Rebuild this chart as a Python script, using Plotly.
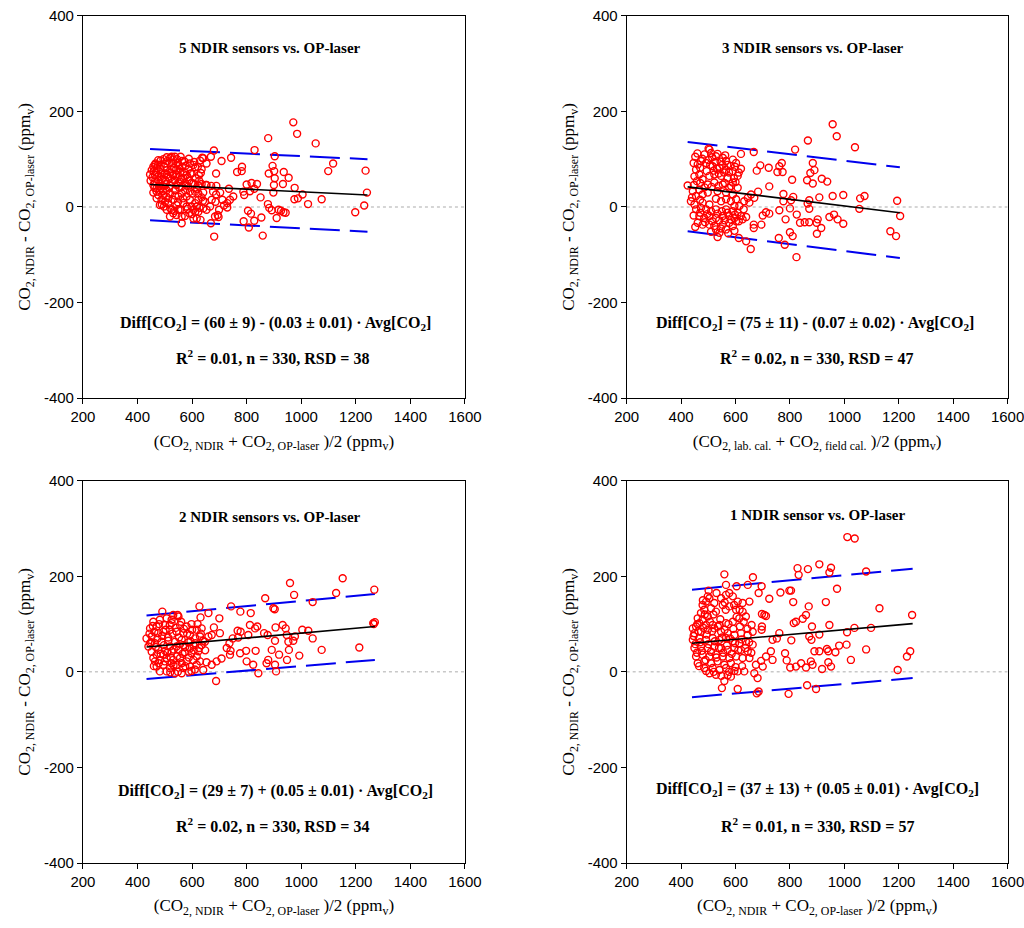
import plotly.graph_objects as go

# Panel texts
titles = ["5 NDIR sensors vs. OP-laser", "3 NDIR sensors vs. OP-laser",
          "2 NDIR sensors vs. OP-laser", "1 NDIR sensor vs. OP-laser"]
equations = [
    "Diff[CO<sub>2</sub>] = (60 ± 9) - (0.03 ± 0.01) · Avg[CO<sub>2</sub>]",
    "Diff[CO<sub>2</sub>] = (75 ± 11) - (0.07 ± 0.02) · Avg[CO<sub>2</sub>]",
    "Diff[CO<sub>2</sub>] = (29 ± 7) + (0.05 ± 0.01) · Avg[CO<sub>2</sub>]",
    "Diff[CO<sub>2</sub>] = (37 ± 13) + (0.05 ± 0.01) · Avg[CO<sub>2</sub>]",
]
stats = ["R<sup>2</sup> = 0.01, n = 330, RSD = 38", "R<sup>2</sup> = 0.02, n = 330, RSD = 47",
         "R<sup>2</sup> = 0.02, n = 330, RSD = 34", "R<sup>2</sup> = 0.01, n = 330, RSD = 57"]
xt_ndir = "(CO<sub>2, NDIR</sub> + CO<sub>2, OP-laser</sub> )/2 (ppm<sub>v</sub>)"
xt_cal = "(CO<sub>2, lab. cal.</sub> + CO<sub>2, field cal.</sub> )/2 (ppm<sub>v</sub>)"
x_titles = [xt_ndir, xt_cal, xt_ndir, xt_ndir]
y_title = "CO<sub>2, NDIR</sub> - CO<sub>2, OP-laser</sub> (ppm<sub>v</sub>)"

x_ticks = [200, 400, 600, 800, 1000, 1200, 1400, 1600]
y_ticks = [-400, -200, 0, 200, 400]
y_tick_text = ["-400", "-200", "0", "200", "400"]

# (average, difference) points
p1_pts = [
    (971, 177), (985, 153), (879, 144), (1053, 133), (829, 119), (680, 118), (1117, 91), (1099, 75),
    (1236, 76), (903, 106), (895, 86), (881, 70), (901, 75), (903, 60), (783, 84), (782, 75), (765, 73),
    (743, 103), (708, 96), (688, 70), (669, 105), (637, 103), (936, 73), (954, 61), (933, 48), (900, 46),
    (898, 30), (976, 40), (1005, 26), (988, 18), (975, 16), (1075, 16), (1025, 6), (1241, 30), (1231, 3),
    (1198, -11), (917, -6), (926, -8), (935, -11), (943, -12), (910, -23), (878, 6), (883, -2), (892, -7),
    (854, -22), (859, -60), (805, -8), (816, -14), (808, -43), (789, -30), (828, -29), (838, 48), (818, 50),
    (800, 47), (828, 38), (812, 33), (788, 32), (791, 25), (851, 20), (735, 38), (751, 22), (739, 15),
    (729, 8), (717, 3), (729, -1), (681, -62), (669, -34), (684, -20), (694, -17), (697, -21), (653, 46),
    (670, 44), (689, 44), (677, 32), (688, 26), (672, 15), (686, 11), (703, 30), (711, 15), (699, -6),
    (446, 68), (460, 75), (466, 91), (476, 98), (495, 100), (507, 104), (525, 105), (537, 105), (558, 105),
    (572, 95), (592, 91), (605, 88), (612, 83), (629, 97), (641, 102), (625, 66), (598, 70), (580, 67),
    (557, 73), (541, 77), (525, 79), (507, 77), (488, 70), (473, 63), (463, 53), (482, 49), (501, 56),
    (519, 60), (537, 56), (556, 53), (574, 51), (590, 55), (605, 49), (623, 45), (635, 48), (651, 46),
    (482, 35), (495, 25), (488, 15), (497, 1), (507, -6), (531, -13), (543, -17), (562, -20), (574, -19),
    (590, -13), (605, -6), (623, -10), (641, -3), (653, -6), (631, -27), (617, -24), (605, -24), (562, -34),
    (525, -6), (513, 8), (531, 15), (550, 22), (562, 28), (580, 22), (592, 15), (611, 8), (623, 15),
    (635, 20), (647, 11), (537, 35), (519, 28), (507, 35), (574, 35), (592, 32), (611, 32), (623, 28),
    (641, 30), (458, 84), (470, 81), (485, 88), (501, 91), (517, 93), (531, 91), (550, 88), (565, 84),
    (586, 79), (485, 63), (507, 67), (531, 67), (550, 63), (568, 60), (470, 39), (495, 43), (519, 44),
    (543, 46), (562, 43), (586, 43), (476, 25), (513, 18), (543, 4), (568, 8), (580, 1), (598, 1), (482, 4),
    (519, -20), (550, -6), (452, 77), (464, 67), (476, 56), (458, 46), (470, 32), (501, 11), (556, -6),
    (617, 1), (666, 1), (635, 79), (653, 91),
    (448, 55), (455, 62), (462, 40), (468, 72), (474, 88), (479, 44), (484, 80), (490, 58), (493, 33),
    (498, 84), (503, 48), (509, 96), (512, 62), (516, 40), (521, 72), (527, 52), (530, 99), (534, 82),
    (538, 24), (542, 68), (547, 92), (553, 40), (555, 80), (559, 58), (563, 96), (567, 18), (571, 73),
    (576, 86), (579, 45), (584, 62), (588, 101), (594, 70), (598, 50), (602, 28), (608, 94), (613, 60),
    (618, 38), (621, 84), (626, 55), (632, 71), (470, 18), (489, 5), (505, 22), (520, -3), (535, -8),
    (548, 10), (584, -4), (600, -15), (612, -10), (627, -2), (640, 13), (458, 30), (463, 88), (485, 97),
    (520, 103), (545, 100), (486, 40), (500, 70),
]

p2_pts = [
    (957, 173), (972, 148), (1039, 125), (866, 139), (819, 120), (667, 115), (620, 111), (534, 111),
    (504, 120), (884, 92), (890, 77), (875, 71), (863, 56), (884, 49), (917, 59), (937, 53), (808, 57),
    (770, 92), (761, 85), (773, 73), (754, 73), (722, 82), (691, 87), (678, 76), (724, 43), (683, 32),
    (776, 27), (812, 21), (804, 14), (776, 12), (871, 14), (908, 20), (957, 23), (996, 25), (1058, 18),
    (1074, 23), (1194, 13), (1205, -19), (1169, -51), (1190, -61), (1055, -4), (871, -4), (865, 7),
    (800, -3), (761, -7), (784, -26), (825, -16), (837, -33), (854, -32), (871, -32), (898, -33),
    (902, -26), (915, -44), (899, -56), (945, -21), (962, -16), (975, -26), (996, -35), (810, -61),
    (800, -53), (759, -65), (781, -79), (824, -105), (724, -14), (700, -18), (712, -11), (695, -37),
    (667, -37), (667, -44), (639, -72), (656, -88), (612, -65), (534, -63), (541, -54), (657, 26),
    (645, 19), (632, 12), (651, 9), (669, 19),
    (501, 122), (510, 113), (528, 106), (553, 103), (565, 96), (590, 99), (602, 92), (620, 80), (608, 65),
    (590, 75), (565, 78), (541, 82), (516, 85), (492, 92), (473, 96), (461, 89), (455, 78), (467, 68),
    (449, 64), (424, 45), (479, 58), (504, 65), (522, 68), (547, 65), (571, 61), (590, 51), (608, 40),
    (498, 47), (522, 51), (553, 47), (577, 40), (443, 33), (467, 36), (455, 23), (479, 26), (498, 30),
    (534, 33), (565, 30), (590, 26), (602, 16), (583, 12), (565, 16), (547, 12), (528, 17), (614, 2),
    (455, -5), (473, -2), (492, -5), (510, -9), (528, -5), (550, -9), (565, -5), (590, -9), (608, -12),
    (467, -19), (485, -23), (504, -19), (528, -23), (553, -19), (577, -19), (596, -23), (620, -19),
    (639, -21), (461, -33), (479, -37), (504, -37), (522, -40), (553, -37), (577, -33), (602, -30),
    (626, -26), (528, -47), (565, -47), (590, -40), (436, 12), (449, 5), (479, 9), (504, 5),
    (446, 92), (452, 105), (460, 112), (470, 82), (478, 101), (486, 110), (494, 75), (500, 98), (507, 88),
    (514, 104), (520, 76), (526, 94), (532, 80), (538, 70), (545, 95), (552, 88), (558, 72), (562, 108),
    (570, 88), (576, 72), (582, 86), (594, 60), (598, 84), (612, 72), (447, 46), (458, 54), (470, 50),
    (486, 41), (512, 42), (538, 44), (560, 50), (584, 44), (600, 52), (446, -18), (452, -42), (470, -12),
    (488, -32), (496, -15), (515, -30), (534, -14), (540, -28), (560, -28), (570, -12), (584, -27),
    (598, -16), (612, -30), (546, -45), (510, -52), (573, -55), (596, -50), (440, 20), (470, 15),
    (596, 2), (630, -5),
]

p3_pts = [
    (959, 186), (1152, 196), (1268, 172), (1128, 165), (974, 161), (868, 154), (1042, 146), (898, 133),
    (903, 131), (815, 123), (777, 126), (743, 137), (627, 137), (660, 123), (631, 114), (700, 112),
    (491, 126), (547, 119), (1264, 102), (1270, 104), (1266, 100), (812, 98), (839, 95), (831, 91),
    (767, 86), (778, 84), (906, 93), (932, 98), (943, 91), (947, 77), (977, 74), (1004, 88), (1026, 86),
    (1042, 70), (971, 65), (953, 63), (904, 65), (877, 77), (864, 81), (806, 77), (769, 72), (749, 70),
    (737, 60), (727, 50), (741, 44), (776, 39), (798, 44), (833, 44), (892, 46), (919, 36), (955, 46),
    (993, 34), (1075, 46), (1213, 51), (948, 25), (879, 25), (873, 18), (904, 15), (824, 15), (800, 22),
    (843, -3), (908, 1), (688, -19), (739, 36), (708, 28), (690, 22), (672, 15), (653, 20), (702, 81),
    (672, 77), (680, 93), (660, 74), (647, 63),
    (531, 119), (550, 116), (507, 112), (482, 109), (458, 105), (446, 91), (470, 95), (501, 98),
    (525, 102), (556, 98), (580, 95), (598, 100), (617, 88), (635, 91), (433, 70), (452, 74), (476, 81),
    (495, 84), (519, 88), (543, 84), (568, 81), (592, 77), (611, 70), (629, 74), (440, 53), (464, 60),
    (488, 63), (513, 65), (537, 63), (562, 67), (586, 62), (605, 56), (635, 56), (452, 42), (476, 46),
    (501, 44), (525, 43), (550, 46), (574, 41), (598, 39), (623, 43), (458, 29), (482, 25), (507, 29),
    (531, 25), (556, 29), (580, 22), (605, 25), (629, 22), (470, 11), (495, 15), (519, 8), (543, 15),
    (568, 8), (592, 11), (617, 15), (537, -3), (562, -3), (598, 2), (507, 1), (482, 1), (641, 4),
    (525, 109), (446, 60), (470, 36), (495, 36), (519, 53), (543, 53), (568, 56), (592, 49), (617, 32),
    (464, 22), (525, 18), (562, 18),
    (444, 80), (450, 62), (456, 96), (462, 84), (467, 52), (473, 70), (479, 100), (485, 38), (490, 75),
    (497, 56), (503, 88), (509, 40), (512, 72), (518, 98), (522, 30), (528, 80), (533, 47), (540, 92),
    (546, 33), (552, 72), (556, 58), (560, 105), (565, 38), (570, 90), (575, 52), (582, 80), (588, 30),
    (594, 64), (600, 88), (606, 45), (612, 60), (620, 100), (626, 50), (632, 80), (640, 65), (648, 45),
    (478, 18), (500, 22), (520, -1), (548, 0), (575, 12), (610, 5), (460, 12), (532, 14), (588, 0),
]

p4_pts = [
    (1011, 282), (1038, 279), (908, 225), (828, 217), (866, 215), (951, 218), (945, 208), (832, 203),
    (1080, 210), (559, 204), (664, 198), (565, 182), (604, 179), (645, 182), (696, 179), (685, 165),
    (724, 153), (765, 166), (798, 170), (804, 170), (812, 146), (973, 174), (932, 146), (869, 137),
    (859, 119), (847, 111), (822, 105), (814, 102), (881, 95), (945, 98), (1037, 92), (1098, 92),
    (1129, 133), (1249, 119), (1010, 83), (908, 78), (871, 74), (879, 67), (805, 66), (761, 81), (752, 70),
    (736, 67), (706, 119), (697, 121), (712, 117), (697, 95), (696, 88), (663, 84), (659, 98), (981, 55),
    (1008, 57), (1080, 47), (936, 48), (941, 43), (967, 41), (908, 43), (890, 43), (877, 22), (941, 20),
    (951, 11), (918, 6), (1024, 25), (1196, 4), (1242, 43), (1230, 32), (782, 39), (788, 24), (801, 9),
    (822, 11), (841, 18), (859, 9), (883, 15), (730, 43), (736, 25), (712, 32), (694, 23), (700, 11),
    (675, 15), (669, -3), (681, -13), (678, -45), (685, -41), (608, -36), (550, -34), (559, -19),
    (571, -7), (596, 2), (608, 1), (632, 1), (795, -46), (863, -28), (896, -36),
    (501, 170), (498, 158), (504, 154), (492, 147), (547, 154), (565, 161), (577, 165), (590, 158),
    (608, 147), (626, 144), (651, 147), (553, 140), (577, 137), (602, 130), (626, 126), (638, 116),
    (614, 112), (590, 105), (565, 102), (541, 98), (485, 130), (473, 123), (498, 116), (479, 109),
    (467, 102), (455, 95), (492, 98), (516, 98), (449, 81), (473, 84), (498, 88), (522, 91), (547, 84),
    (571, 81), (596, 77), (620, 81), (645, 77), (443, 67), (467, 71), (492, 67), (516, 71), (541, 67),
    (565, 71), (590, 64), (614, 60), (638, 64), (663, 57), (449, 50), (473, 53), (498, 50), (522, 53),
    (547, 50), (571, 46), (596, 50), (620, 46), (645, 43), (455, 32), (479, 36), (504, 32), (528, 36),
    (553, 32), (577, 29), (602, 32), (626, 29), (651, 29), (461, 18), (485, 22), (510, 18), (534, 22),
    (559, 15), (583, 18), (485, 8), (516, 8), (541, 4), (565, 8), (528, -6), (504, -3), (583, -10),
    (443, 91), (461, 112), (510, 133), (528, 126), (479, 140), (522, 144),
    (446, 75), (452, 58), (458, 40), (460, 100), (464, 85), (470, 62), (476, 44), (482, 92), (487, 120),
    (490, 25), (494, 78), (500, 58), (506, 105), (510, 42), (514, 85), (519, 120), (524, 64), (530, 30),
    (535, 95), (539, 50), (544, 110), (550, 72), (555, 40), (560, 88), (564, 130), (568, 55), (574, 100),
    (580, 70), (586, 38), (592, 90), (598, 60), (604, 115), (610, 45), (616, 95), (622, 68), (630, 105),
    (636, 50), (644, 90), (650, 62), (658, 40), (466, 12), (492, 2), (520, 0), (548, -8), (576, 0),
    (600, 10), (624, 12), (480, 150), (530, 165), (560, 145), (595, 140), (615, 130),
]

fit_x = [[446, 1243], [424, 1204], [433, 1270], [440, 1251]]
fit_y = [[47, 25], [42, -12], [52, 95], [60, 101]]
upper_y = [[121, 100], [136, 83], [118, 163], [172, 216]]
lower_y = [[-28, -52], [-51, -107], [-15, 25], [-53, -13]]

# text positions (data units)
title_pos = [(885, 333), (884, 333), (885, 325), (902, 329)]
eq_pos = [(904, -243), (891, -243), (904, -251), (902, -247)]
stat_pos = [(893, -314), (898, -314), (893, -320), (900, -320)]

all_pts = [p1_pts, p2_pts, p3_pts, p4_pts]
x_domains = [[0.081, 0.454], [0.612, 0.984], [0.081, 0.454], [0.612, 0.984]]
y_domains = [[0.571, 0.983], [0.571, 0.983], [0.070, 0.482], [0.070, 0.482]]

serif = "Liberation Serif, Times New Roman, serif"
sans = "Liberation Sans, Arial, sans-serif"

fig = go.Figure()
annotations = []
layout = {}

for i in range(4):
    n = "" if i == 0 else str(i + 1)
    xa, ya = "x" + n, "y" + n
    pts = all_pts[i]
    xs = [p[0] for p in pts]
    ys = [p[1] for p in pts]

    # zero line
    fig.add_trace(go.Scatter(x=[200, 1600], y=[0, 0], mode="lines", xaxis=xa, yaxis=ya,
                             line=dict(color="#c8c8c8", width=1.5, dash="dot"), hoverinfo="skip"))
    # limits of agreement
    for ly in (upper_y[i], lower_y[i]):
        fig.add_trace(go.Scatter(x=fit_x[i], y=ly, mode="lines", xaxis=xa, yaxis=ya,
                                 line=dict(color="#0000ee", width=2, dash="30px,10px"), hoverinfo="skip"))
    # data
    fig.add_trace(go.Scatter(x=xs, y=ys, mode="markers", xaxis=xa, yaxis=ya,
                             marker=dict(symbol="circle-open", size=7, color="#ff0000",
                                         line=dict(width=1.4, color="#ff0000"))))
    # regression line
    fig.add_trace(go.Scatter(x=fit_x[i], y=fit_y[i], mode="lines", xaxis=xa, yaxis=ya,
                             line=dict(color="black", width=1.6), hoverinfo="skip"))

    axis_common = dict(showline=True, linecolor="black", linewidth=1, mirror=True, automargin=False,
                       ticks="outside", ticklen=5, tickcolor="black", showgrid=False,
                       ticklabeloverflow="allow",
                       zeroline=False, tickfont=dict(family=sans, size=15, color="black"))
    layout["xaxis" + n] = dict(axis_common, domain=x_domains[i], anchor=ya, range=[200, 1600],
                               tickvals=x_ticks,
                               title=dict(text=x_titles[i], font=dict(family=serif, size=17, color="black"),
                                          standoff=10))
    layout["yaxis" + n] = dict(axis_common, domain=y_domains[i], anchor=xa, range=[-400, 400],
                               tickvals=y_ticks, ticktext=y_tick_text,
                               title=dict(text=y_title, font=dict(family=serif, size=17, color="black"),
                                          standoff=8))

    annotations.append(dict(x=title_pos[i][0], y=title_pos[i][1], xref=xa, yref=ya, text="<b>" + titles[i] + "</b>",
                            showarrow=False, font=dict(family=serif, size=15, color="black")))
    annotations.append(dict(x=eq_pos[i][0], y=eq_pos[i][1], xref=xa, yref=ya, text="<b>" + equations[i] + "</b>",
                            showarrow=False, font=dict(family=serif, size=16, color="black")))
    annotations.append(dict(x=stat_pos[i][0], y=stat_pos[i][1], xref=xa, yref=ya, text="<b>" + stats[i] + "</b>",
                            showarrow=False, font=dict(family=serif, size=16, color="black")))

fig.update_layout(**layout)
fig.update_layout(
    width=1024, height=928,
    margin=dict(l=0, r=0, t=0, b=0, autoexpand=False),
    paper_bgcolor="white", plot_bgcolor="white",
    showlegend=False,
    annotations=annotations,
)

# page body has a default 8px margin; drop it so the figure fills the window
fig.write_html("out.html", config={"displayModeBar": False},
               post_script="document.body.style.margin = '0';")
